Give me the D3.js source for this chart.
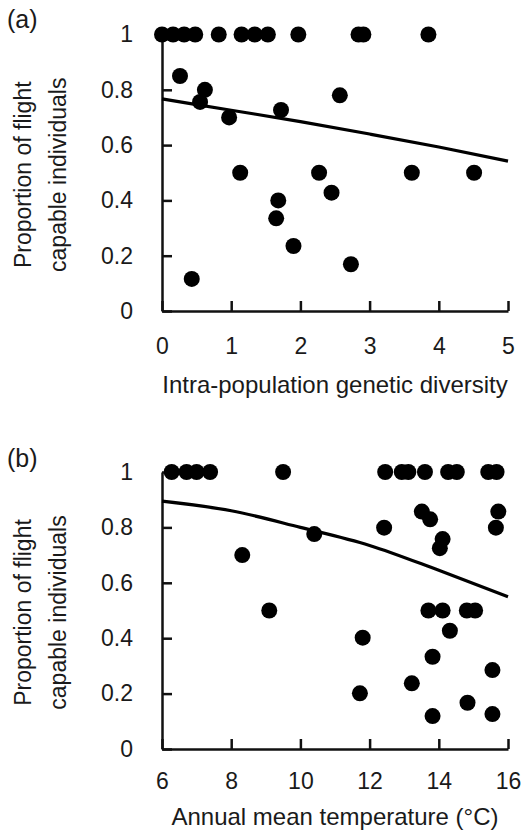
<!DOCTYPE html>
<meta charset="utf-8">
<style>
body,html{ margin:0; padding:0; background:#fff; }
svg text{ font-family:"Liberation Sans", Arial, sans-serif; fill:#1a1a1a; }
.axis path, .axis line{ stroke:#111; stroke-width:2.5px; }
.fit{ fill:none; stroke:#000; stroke-width:3.2px; }
</style>
<svg width="523" height="831"></svg>
<script src="https://d3js.org/d3.v7.min.js"></script>
<script>
// panel (a): genetic diversity vs proportion flight capable
var divX = [0, 0.16, 0.32, 0.48, 0.82, 1.15, 1.34, 1.53, 1.97, 2.84, 2.91, 3.85,
            0.26, 0.62, 0.55, 2.57, 1.72, 0.97, 1.13, 2.27, 3.61, 4.51, 2.45, 1.68, 1.65, 1.90, 2.73, 0.43]
var divY = [1, 1, 1, 1, 1, 1, 1, 1, 1, 1, 1, 1,
            0.85, 0.80, 0.756, 0.78, 0.727, 0.70, 0.5, 0.5, 0.5, 0.5, 0.428, 0.40, 0.335, 0.235, 0.169, 0.116]
var fitAx = [0, 1, 2, 3, 4, 5]
var fitAy = [0.767, 0.726, 0.685, 0.640, 0.593, 0.542]
var xTicksA = [0, 1, 2, 3, 4, 5]

// panel (b): annual mean temperature vs proportion flight capable
var tempX = [6.28, 6.71, 7.0, 7.39, 9.5, 12.45, 12.93, 13.12, 13.6, 14.27, 14.52, 15.43, 15.67,
             13.51, 13.75, 15.72, 15.65, 12.42, 14.11, 14.03, 10.40, 8.32, 9.10, 13.70, 14.11, 14.81, 15.05,
             14.32, 11.80, 13.82, 15.55, 13.22, 11.72, 14.83, 13.82, 15.55]
var tempY = [1, 1, 1, 1, 1, 1, 1, 1, 1, 1, 1, 1, 1,
             0.857, 0.829, 0.857, 0.799, 0.799, 0.758, 0.725, 0.776, 0.70, 0.5, 0.5, 0.5, 0.5, 0.5,
             0.427, 0.402, 0.333, 0.285, 0.237, 0.201, 0.167, 0.119, 0.126]
var fitBx = [6, 8, 10, 12, 14, 16]
var fitBy = [0.895, 0.86, 0.80, 0.735, 0.645, 0.55]
var xTicksB = [6, 8, 10, 12, 14, 16]

var yTicks = [0, 0.2, 0.4, 0.6, 0.8, 1]
var yTickLabels = ["0", "0.2", "0.4", "0.6", "0.8", "1"]

var svg = d3.select("svg")

var panels = [
  {tag: "(a)", xs: divX, ys: divY, fx: fitAx, fy: fitAy, dom: [0, 5], ticks: xTicksA,
   top: 34.5, bottom: 311, tagY: 28, labPad: 27, xlabY: 82, xlab: "Intra-population genetic diversity"},
  {tag: "(b)", xs: tempX, ys: tempY, fx: fitBx, fy: fitBy, dom: [6, 16], ticks: xTicksB,
   top: 472, bottom: 749, tagY: 467, labPad: 24, xlabY: 76, xlab: "Annual mean temperature (°C)"}
]

panels.forEach(function(p) {
  var x = d3.scaleLinear().domain(p.dom).range([162, 508])
  var y = d3.scaleLinear().domain([0, 1]).range([p.bottom, p.top])
  var g = svg.append("g")

  g.append("g").attr("class", "axis")
      .attr("transform", "translate(0," + p.bottom + ")")
      .call(d3.axisBottom(x).tickValues(p.ticks).tickSize(-10).tickSizeOuter(0).tickPadding(p.labPad)
        .tickFormat(function(d) { return String(d) }))
      .call(function(a) { a.selectAll("text").attr("font-size", 23).attr("font-family", null) })

  g.append("g").attr("class", "axis")
      .attr("transform", "translate(162,0)")
      .call(d3.axisLeft(y).tickValues(yTicks).tickSize(-10).tickSizeOuter(0).tickPadding(29)
        .tickFormat(function(d, i) { return yTickLabels[i] }))
      .call(function(a) { a.selectAll("text").attr("font-size", 23).attr("font-family", null) })

  var line = d3.line().x(function(d) { return x(d[0]) }).y(function(d) { return y(d[1]) })
      .curve(d3.curveMonotoneX)
  g.append("path").attr("class", "fit")
      .attr("d", line(d3.zip(p.fx, p.fy)))

  g.selectAll("circle").data(d3.zip(p.xs, p.ys)).enter().append("circle")
      .attr("cx", function(d) { return x(d[0]) })
      .attr("cy", function(d) { return y(d[1]) })
      .attr("r", 8)
      .attr("fill", "#000")

  g.append("text").attr("x", 7).attr("y", p.tagY).attr("font-size", 25).text(p.tag)

  g.append("text").attr("x", 335).attr("y", p.bottom + p.xlabY)
      .attr("text-anchor", "middle").attr("font-size", 24).text(p.xlab)

  var cy = (p.top + p.bottom) / 2 + 2
  g.append("text").attr("transform", "translate(31," + cy + ") rotate(-90)")
      .attr("text-anchor", "middle").attr("font-size", 23).text("Proportion of flight")
  g.append("text").attr("transform", "translate(66," + cy + ") rotate(-90)")
      .attr("text-anchor", "middle").attr("font-size", 23).text("capable individuals")
})
</script>
